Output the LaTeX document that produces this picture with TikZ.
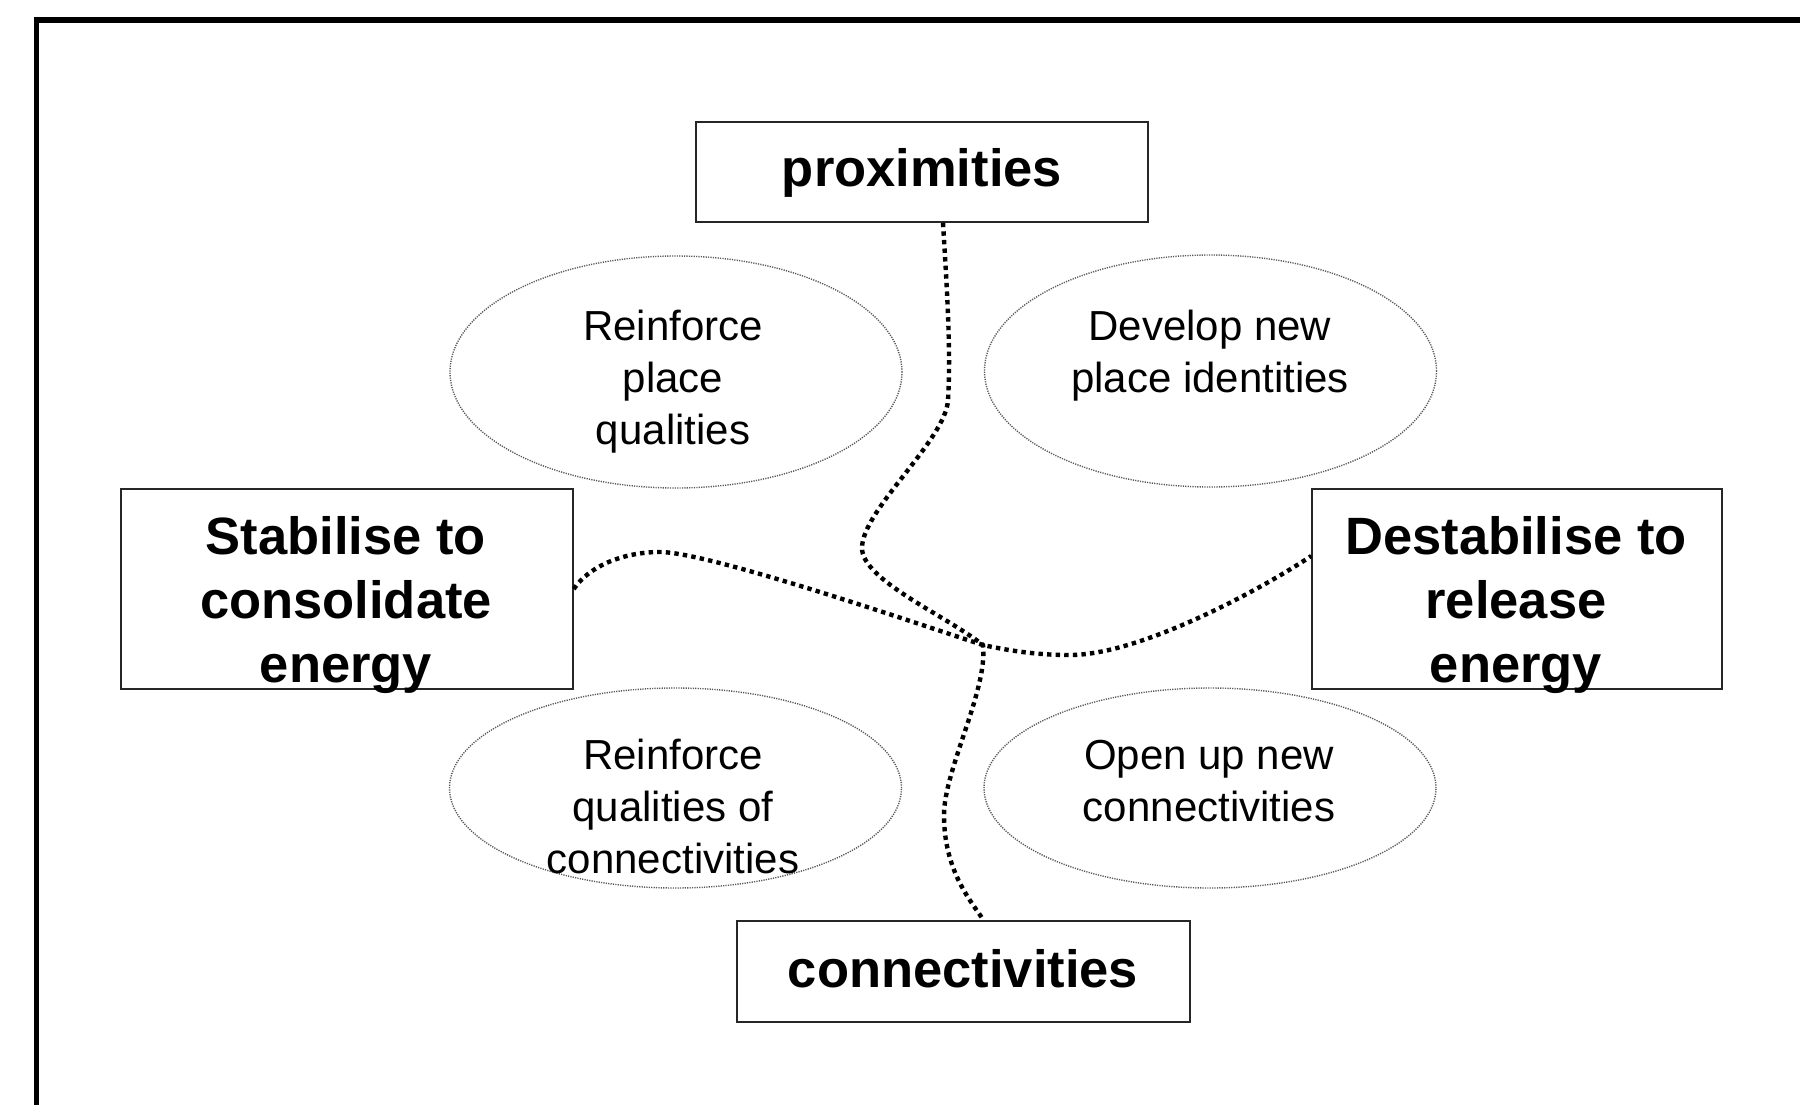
\documentclass[tikz,border=0pt]{standalone}
\usepackage{fontspec}
\setmainfont{Liberation Sans}
\usetikzlibrary{shapes.geometric}
\begin{document}
\begin{tikzpicture}[x=0.5pt,y=-0.5pt,
  bbox/.style={draw=black!85, line width=0.75pt, inner sep=0pt},
  oval/.style={ellipse, draw=black!65, line width=0.7pt, dash pattern=on 0.6pt off 0.6pt, inner sep=0pt, minimum width=226pt},
  boldtxt/.style={font=\fontsize{26.25pt}{32pt}\selectfont\bfseries, align=center, inner sep=0pt},
  regtxt/.style={font=\fontsize{21pt}{26pt}\selectfont, align=center, inner sep=0pt},
  link/.style={line width=2.2pt, dash pattern=on 2.2pt off 2.1pt}]
\useasboundingbox (0,0) rectangle (1800,1104);
\clip (0,0) rectangle (1800,1104);
\draw[line width=2.75pt] (36.3,20) rectangle (2100,1400);

% ellipses
\node[oval, minimum height=116pt] (rpq) at (676,372) {};
\node[regtxt] (rpqt) at (673,382) {Reinforce\\place\\qualities};
\node[oval, minimum height=116pt] (dev) at (1210.5,371) {};
\node[regtxt] (devt) at (1210,356) {Develop new\\place identities};
\node[oval, minimum height=100pt] (rqc) at (675.5,788) {};
\node[regtxt] (rqct) at (673,806) {Reinforce\\qualities of\\connectivities};
\node[oval, minimum height=100pt] (opn) at (1210,788) {};
\node[regtxt] (opnt) at (1209,781) {Open up new\\connectivities};

% boxes
\node[bbox, minimum width=226pt, minimum height=50pt] (prox) at (922,172) {};
\node[boldtxt] (proxt) at (922,173) {proximities};
\node[bbox, minimum width=226pt, minimum height=100pt] (stab) at (347,589) {};
\node[boldtxt] (stabt) at (346,605.5) {Stabilise to\\consolidate\\energy};
\node[bbox, minimum width=205pt, minimum height=100pt] (dest) at (1517,589) {};
\node[boldtxt] (destt) at (1516,605.5) {Destabilise to\\release\\energy};
\node[bbox, minimum width=226.5pt, minimum height=50.5pt] (conn) at (963.5,971.25) {};
\node[boldtxt] (connt) at (963,968.5) {connectivities};

% connectors
\coordinate (J) at (983,645);
\draw[link] ([xshift=10.5pt]prox.south) .. controls (947,290) and (951,350) .. (948,400)
  .. controls (946,440) and (862,510) .. (862,548)
  .. controls (862,580) and (945,615) .. (J)
  .. controls (988,690) and (944,770) .. (944,815)
  .. controls (944,870) and (970,900) .. ([xshift=10pt]conn.north);
\draw[link] (stab.east) .. controls (590,565) and (625,552) .. (660,552)
  .. controls (710,552) and (930,628) .. (J)
  .. controls (1020,653) and (1045,655) .. (1070,655)
  .. controls (1140,655) and (1260,590) .. ([yshift=16.5pt]dest.west);
\end{tikzpicture}
\end{document}
